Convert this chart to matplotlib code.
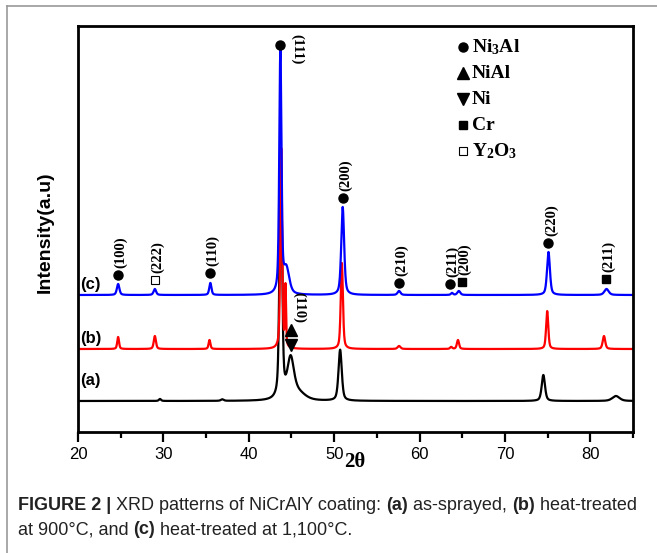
"""
XRD patterns of NiCrAlY coating (as-sprayed / 900C / 1100C).
"""
import numpy as np
import matplotlib
matplotlib.use("Agg")
import matplotlib.pyplot as plt
from matplotlib.lines import Line2D

plt.rcParams['mathtext.fontset'] = 'custom'
plt.rcParams['mathtext.rm'] = 'Liberation Serif:bold'
plt.rcParams['mathtext.it'] = 'Liberation Serif:bold'
plt.rcParams['mathtext.bf'] = 'Liberation Serif:bold'
plt.rcParams['mathtext.default'] = 'rm'

SERIF = ['Liberation Serif', 'DejaVu Serif']
SANS = ['Liberation Sans', 'DejaVu Sans']

# ── Data (peak tables, intensity in a.u.) ────────────────────────────────────
two_theta = np.arange(20.0, 85.0, 0.02)

# (a) as-sprayed
a_base = 310
a_pos = [29.6, 36.9, 43.75, 44.9, 45.7, 50.7, 74.5, 83.0]
a_hgt = [20, 15, 2500, 380, 80, 510, 260, 50]
a_wid = [0.3, 0.4, 0.35, 0.9, 2.0, 0.45, 0.45, 1.0]

# (b) heat-treated 900C
b_base = 830
b_pos = [24.7, 29.0, 35.4, 43.8, 44.3, 50.9, 57.6, 63.7, 64.5, 74.95, 81.6]
b_hgt = [120, 130, 90, 2000, 600, 860, 30, 20, 90, 380, 130]
b_wid = [0.25, 0.3, 0.25, 0.25, 0.15, 0.3, 0.4, 0.3, 0.3, 0.3, 0.35]

# (c) heat-treated 1100C
c_base = 1370
c_pos = [24.7, 29.0, 35.5, 43.7, 44.4, 51.0, 57.6, 63.8, 64.6, 75.1, 81.9]
c_hgt = [110, 60, 120, 2420, 250, 880, 40, 20, 40, 430, 60]
c_wid = [0.35, 0.35, 0.3, 0.3, 0.8, 0.4, 0.4, 0.3, 0.4, 0.4, 0.6]

# peak labels on pattern (c): position, marker height, phase, plane
lab_pos = [24.7, 29.0, 35.5, 51.0, 57.6, 63.55, 65.0, 75.1, 81.8]
lab_y = [1570, 1520, 1590, 2340, 1490, 1480, 1500, 1890, 1530]
lab_phase = ['Ni3Al', 'Y2O3', 'Ni3Al', 'Ni3Al', 'Ni3Al', 'Ni3Al', 'Cr', 'Ni3Al', 'Cr']
lab_text = ['(100)', '(222)', '(110)', '(200)', '(210)', '(211)', '(200)', '(220)', '(211)']

main_pos, main_y, main_text = 43.7, 3870, '(111)'
nial_pos, nial_up_y, nial_dn_y, nial_text = 44.95, 1020, 870, '(110)'

legend_names = ['Ni$_3$Al', 'NiAl', 'Ni', 'Cr', 'Y$_2$O$_3$']
legend_keys = ['Ni3Al', 'NiAl', 'Ni', 'Cr', 'Y2O3']

MARK = {
    'Ni3Al': dict(marker='o', ms=6.5, mfc='black', mec='black'),
    'NiAl': dict(marker='^', ms=8, mfc='black', mec='black'),
    'Ni': dict(marker='v', ms=8, mfc='black', mec='black'),
    'Cr': dict(marker='s', ms=6, mfc='black', mec='black'),
    'Y2O3': dict(marker='s', ms=6, mfc='white', mec='black', mew=0.8),
}


def profile(base, pos, hgt, wid):
    y = np.full_like(two_theta, float(base))
    for p, h, w in zip(pos, hgt, wid):
        d = (two_theta - p) / (w / 2)
        y += h * (0.5 / (1 + d ** 2) + 0.5 * np.exp(-np.log(2) * d ** 2))
    return y


W, H = 657, 553
fig = plt.figure(figsize=(W / 100, H / 100), dpi=100)
ax = fig.add_axes([78 / W, 1 - 432 / H, (633 - 78) / W, (432 - 26) / H])

ax.plot(two_theta, profile(a_base, a_pos, a_hgt, a_wid), color='black', lw=1.6)
ax.plot(two_theta, profile(b_base, b_pos, b_hgt, b_wid), color='#ff0000', lw=1.6)
ax.plot(two_theta, profile(c_base, c_pos, c_hgt, c_wid), color='#0000ff', lw=1.6)

ax.set_xlim(20, 85)
ax.set_ylim(0, 4060)
ax.set_yticks([])
ax.set_xticks(np.arange(20, 81, 10))
ax.set_xticks(np.arange(25, 86, 10), minor=True)
ax.tick_params(axis='x', which='major', direction='out', length=7, width=1.6,
               labelsize=12, pad=4)
ax.tick_params(axis='x', which='minor', direction='out', length=4, width=1.6)
for lbl in ax.get_xticklabels():
    lbl.set_family(SANS)
for sp in ax.spines.values():
    sp.set_linewidth(2)

# ── Peak labels ──────────────────────────────────────────────────────────────
for p, yv, ph, txt in zip(lab_pos, lab_y, lab_phase, lab_text):
    ax.plot(p, yv, ls='none', **MARK[ph])
    ax.annotate(txt, (p, yv), xytext=(2, 5), textcoords='offset points',
                rotation=90, ha='center', va='bottom', fontsize=10.5,
                fontweight='bold', family=SERIF)

ax.plot(main_pos, main_y, ls='none', clip_on=False, **MARK['Ni3Al'])
ax.annotate(main_text, (main_pos, main_y), xytext=(12, 8), textcoords='offset points',
            rotation=270, ha='center', va='top', fontsize=10.5,
            fontweight='bold', family=SERIF)

ax.plot(nial_pos, nial_up_y, ls='none', **MARK['NiAl'])
ax.plot(nial_pos, nial_dn_y, ls='none', **MARK['Ni'])
ax.annotate(nial_text, (nial_pos, nial_up_y), xytext=(6, 5), textcoords='offset points',
            rotation=270, ha='center', va='bottom', fontsize=10.5,
            fontweight='bold', family=SERIF)

# ── Pattern tags ─────────────────────────────────────────────────────────────
for tag, py in zip(['(c)', '(b)', '(a)'], [284, 338, 381]):
    ax.text((80 - 78) / 555, (432 - py) / 406, tag, transform=ax.transAxes,
            ha='left', va='center', fontsize=12, fontweight='bold', family=SANS)

# ── Legend ───────────────────────────────────────────────────────────────────
for i, (key, name) in enumerate(zip(legend_keys, legend_names)):
    py = 47 + i * 26
    ax.plot((463 - 78) / 555, (432 - py) / 406, transform=ax.transAxes,
            ls='none', **MARK[key])
    ax.text((472 - 78) / 555, (432 - py) / 406, name, transform=ax.transAxes,
            ha='left', va='center', fontsize=14, fontweight='bold', family=SERIF)

fig.text(355 / W, 1 - 462 / H, '2θ', ha='center', va='center', fontsize=15,
         fontweight='bold', family=SERIF)
fig.text(45 / W, 1 - 232 / H, 'Intensity(a.u)', rotation=90, ha='center',
         va='center', fontsize=14, fontweight='bold', family=SANS)

# ── Frame around the figure panel ────────────────────────────────────────────
fig.add_artist(Line2D([7 / W, 1], [1 - 6 / H, 1 - 6 / H], transform=fig.transFigure,
                      color='#999999', lw=1.2))
fig.add_artist(Line2D([7 / W, 7 / W], [0, 1 - 6 / H], transform=fig.transFigure,
                      color='#999999', lw=1.2))

# ── Caption ──────────────────────────────────────────────────────────────────
renderer = fig.canvas.get_renderer()


def caption_line(pieces, x, y):
    for txt, weight in pieces:
        t = fig.text(x, y, txt, fontweight=weight, fontsize=13, family=SANS,
                     color='#222222', ha='left', va='center')
        x += t.get_window_extent(renderer).width / W


caption_line([('FIGURE 2 | ', 'bold'), ('XRD patterns of NiCrAlY coating: ', 'normal'),
              ('(a)', 'bold'), (' as-sprayed, ', 'normal'), ('(b)', 'bold'),
              (' heat-treated', 'normal')], 18 / W, 1 - 506 / H)
caption_line([('at 900°C, and ', 'normal'), ('(c)', 'bold'),
              (' heat-treated at 1,100°C.', 'normal')], 18 / W, 1 - 530 / H)

fig.savefig('out.png', dpi=100)
